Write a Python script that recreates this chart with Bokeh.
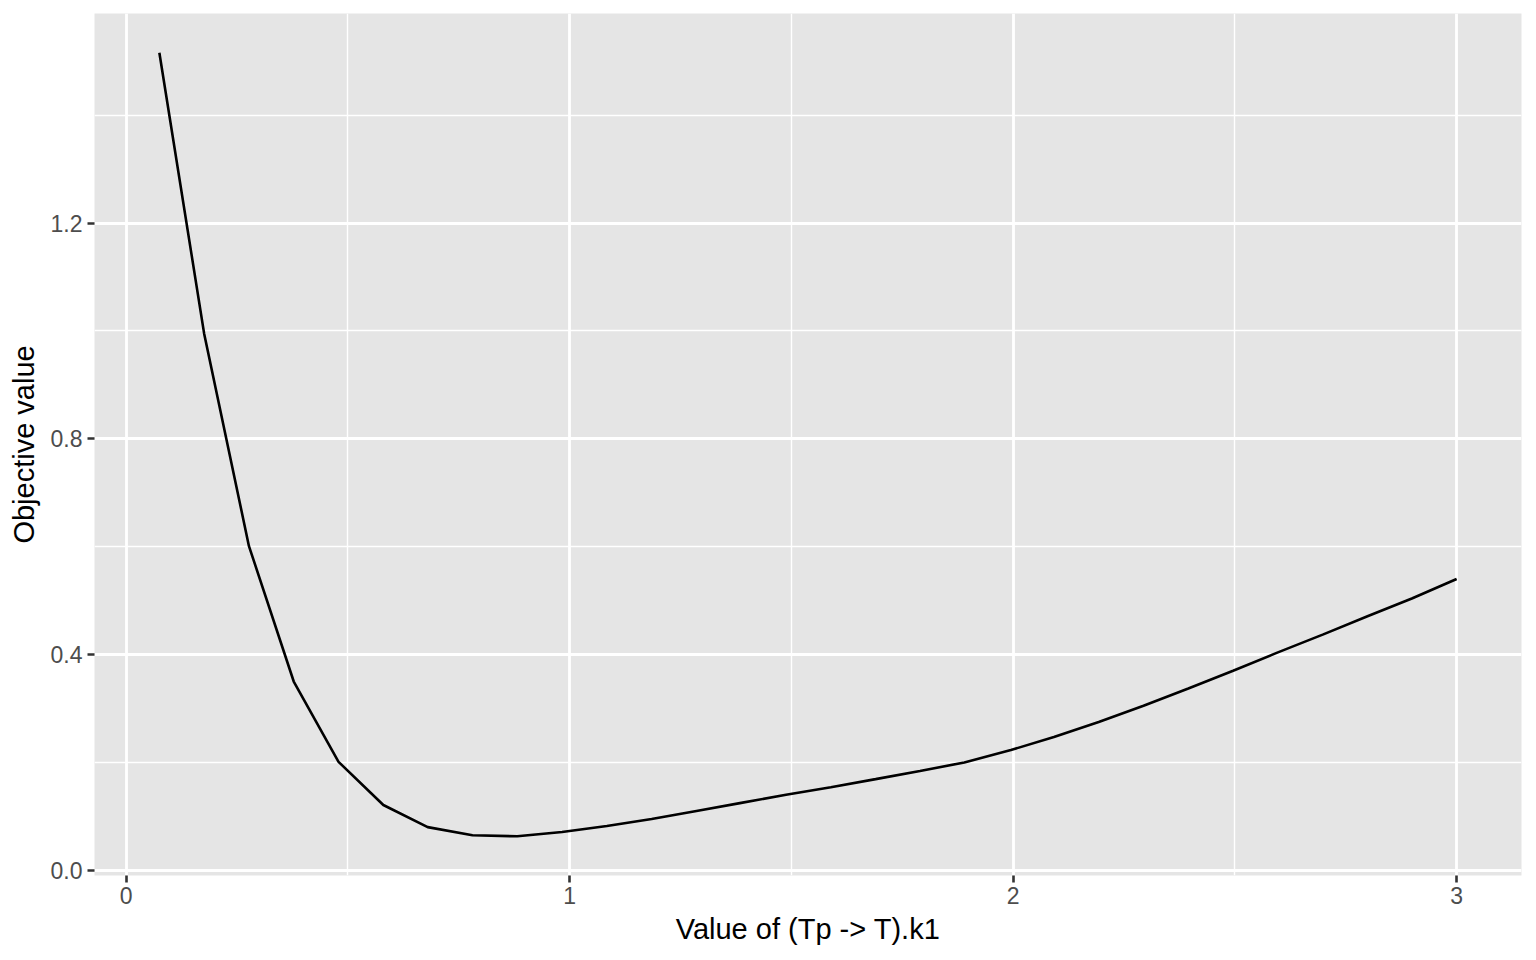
from bokeh.plotting import figure
from bokeh.models import FixedTicker, Range1d, ColumnDataSource
from bokeh.embed import file_html
from bokeh.resources import INLINE

k1_values = [0.075, 0.176, 0.277, 0.378, 0.479, 0.580, 0.680, 0.781, 0.882, 0.983,
             1.084, 1.185, 1.286, 1.387, 1.488, 1.589, 1.690, 1.790, 1.890, 1.995,
             2.092, 2.193, 2.294, 2.395, 2.496, 2.597, 2.698, 2.799, 2.899, 3.0]
objective = [1.516, 0.995, 0.601, 0.350, 0.201, 0.121, 0.080, 0.065, 0.063, 0.071,
             0.082, 0.095, 0.110, 0.125, 0.140, 0.154, 0.169, 0.184, 0.200, 0.223,
             0.247, 0.275, 0.305, 0.337, 0.370, 0.404, 0.437, 0.471, 0.504, 0.540]
x_ticks = [0, 1, 2, 3]
x_minor = [0.5, 1.5, 2.5]
y_ticks = [0.0, 0.4, 0.8, 1.2]
y_minor = [0.2, 0.6, 1.0, 1.4]
y_tick_labels = {0.0: "0.0", 0.4: "0.4", 0.8: "0.8", 1.2: "1.2"}

xmin, xmax = min(k1_values), max(k1_values)
ymin, ymax = min(objective), max(objective)
xpad = (xmax - xmin) * 0.05
ypad = (ymax - ymin) * 0.05

p = figure(width=1527, height=951, output_backend="svg", toolbar_location=None,
           frame_width=1427, frame_height=862,
           x_range=Range1d(xmin - xpad, xmax + xpad),
           y_range=Range1d(ymin - ypad, ymax + ypad),
           min_border_left=94, min_border_right=6, min_border_top=13, min_border_bottom=76)
p.background_fill_color = "#E5E5E5"
p.border_fill_color = "white"
p.outline_line_color = None

src = ColumnDataSource(dict(x=k1_values, y=objective))
p.line("x", "y", source=src, line_color="black", line_width=2.6)

p.xaxis.ticker = FixedTicker(ticks=x_ticks, minor_ticks=x_minor)
p.yaxis.ticker = FixedTicker(ticks=y_ticks, minor_ticks=y_minor)
p.yaxis.major_label_overrides = y_tick_labels

for g in (p.xgrid, p.ygrid):
    g.grid_line_color = "white"
    g.grid_line_width = 2.8
    g.minor_grid_line_color = "white"
    g.minor_grid_line_width = 1.4

for ax in (p.xaxis, p.yaxis):
    ax.axis_line_color = None
    ax.major_tick_line_color = "#333333"
    ax.major_tick_line_width = 2.6
    ax.major_tick_out = 7
    ax.major_tick_in = 0
    ax.minor_tick_line_color = None
    ax.major_label_text_font = "Liberation Sans"
    ax.major_label_text_font_size = "23px"
    ax.major_label_text_color = "#4D4D4D"
    ax.axis_label_text_font = "Liberation Sans"
    ax.axis_label_text_font_size = "29px"
    ax.axis_label_text_font_style = "normal"
    ax.axis_label_text_color = "black"

p.xaxis.axis_label = "Value of (Tp -> T).k1"
p.yaxis.axis_label = "Objective value"
p.xaxis.major_label_standoff = 4
p.yaxis.major_label_standoff = 5
p.xaxis.axis_label_standoff = 6
p.yaxis.axis_label_standoff = 8

open("out.html", "w").write(file_html(p, INLINE))
